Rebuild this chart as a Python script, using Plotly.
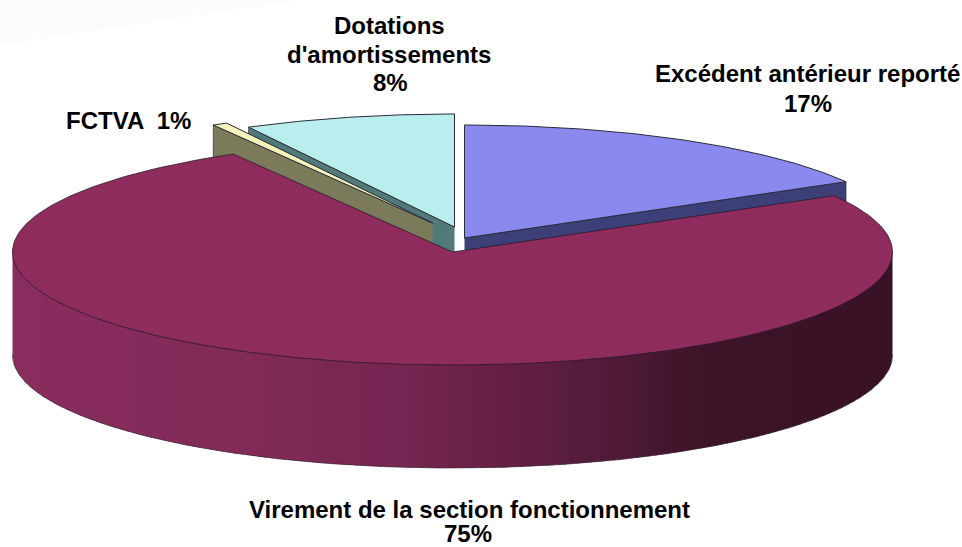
import numpy as np
import plotly.graph_objects as go

categories = ["Excédent antérieur reporté", "Virement de la section fonctionnement", "FCTVA", "Dotations d'amortissements"]
values = [16.7, 75.0, 0.55, 7.75]
top_colors = ["#8a8aee", "#8e2c5e", "#f6f3ba", "#b9eeee"]
wall_colors = ["#3c3f78", "#8a2d5f", "#7b7b5c", "#4f7a78"]
explode_x = [12, 0, -20, 2]
explode_y = [-14, 0, -29, -25]
label_lines = [("Dotations", 389.5, 25), ("d'amortissements", 389, 54), ("8%", 390, 82),
               ("Excédent antérieur reporté", 807.5, 73), ("17%", 808, 103),
               ("FCTVA  1%", 128, 120),
               ("Virement de la section fonctionnement", 469, 509), ("75%", 468, 533)]
grad_x = [12, 250, 400, 500, 600, 700, 893]
grad_r = [138, 130, 118, 102, 84, 62, 56]
grad_g = [45, 42, 38, 32, 28, 20, 18]
grad_b = [95, 88, 82, 70, 58, 40, 36]

CX, CY, RX, RY, DEPTH = 452.5, 252, 440, 113, 103
fig = go.Figure()

def poly(xs, ys, fill, line=None, width=1):
    fig.add_trace(go.Scatter(x=list(xs), y=list(ys), mode="lines", fill="toself", fillcolor=fill,
                             line=dict(color=line or fill, width=width), hoverinfo="skip", showlegend=False))

def arc(a0, a1, n=120):
    t = np.radians(np.linspace(a0, a1, n))
    return RX * np.sin(t), -RY * np.cos(t)

edges = np.concatenate([[0], np.cumsum(values)]) * 3.6
OUT = "#2a2a3a"

def slice_piece(i, wall_angle):
    cx, cy = CX + explode_x[i], CY + explode_y[i]
    ax, ay = arc(edges[i], edges[i + 1])
    ex, ey = arc(wall_angle, wall_angle, 1)
    poly([cx, cx + ex[0], cx + ex[0], cx], [cy, cy + ey[0], cy + ey[0] + DEPTH, cy + DEPTH],
         wall_colors[i], OUT, 0.7)
    poly(np.r_[cx, cx + ax, cx], np.r_[cy, cy + ay, cy], top_colors[i], OUT, 1)

slice_piece(0, edges[1])
slice_piece(3, edges[3])
slice_piece(2, edges[2])

# maroon outer wall: strips run left to right, each one overlapping the next
a0, a1 = edges[1], edges[2]
strip_edges = np.arange(CX - RX, CX + RX, 6.0)
for x0 in strip_edges:
    x1 = min(x0 + 8.0, CX + RX)
    xs = np.linspace(x0, x1, 6)
    u = np.clip((xs - CX) / RX, -1, 1)
    low = CY + RY * np.sqrt(1 - u ** 2) + DEPTH
    mx = x0 + 3
    c = "rgb(%d,%d,%d)" % (np.interp(mx, grad_x, grad_r), np.interp(mx, grad_x, grad_g), np.interp(mx, grad_x, grad_b))
    fig.add_trace(go.Scatter(x=np.r_[xs, xs[::-1]], y=np.r_[low, np.full(6, CY)], mode="lines", fill="toself",
                             fillcolor=c, line=dict(width=0), hoverinfo="skip", showlegend=False))

bx, by = arc(90, 270, 181)
fig.add_trace(go.Scatter(x=CX + bx, y=CY + by + DEPTH, mode="lines", line=dict(color="#3a2a38", width=0.7),
                         hoverinfo="skip", showlegend=False))

ax, ay = arc(a0, a1, 300)
poly(np.r_[CX, CX + ax, CX], np.r_[CY, CY + ay, CY], top_colors[1], "#2a1a2a", 0.8)

for txt, x, y in label_lines:
    fig.add_annotation(x=x, y=y, text="<b>" + txt + "</b>", showarrow=False, xanchor="center", yanchor="middle",
                       font=dict(family="Liberation Sans", size=24, color="#000000"))

fig.update_layout(
    width=962, height=547, margin=dict(l=0, r=0, t=0, b=0),
    paper_bgcolor="rgba(0,0,0,0)", plot_bgcolor="rgba(0,0,0,0)", showlegend=False,
    xaxis=dict(range=[0, 962], visible=False, fixedrange=True),
    yaxis=dict(range=[547, 0], visible=False, fixedrange=True),
    shapes=[dict(type="path", path="M 0 0 L 300 0 L 0 45 Z", fillcolor="#fcfcfc", line=dict(width=0), layer="below")],
)
fig.write_html("out.html", config=dict(displayModeBar=False),
               post_script="document.body.style.margin='0';document.body.style.overflow='hidden';")
